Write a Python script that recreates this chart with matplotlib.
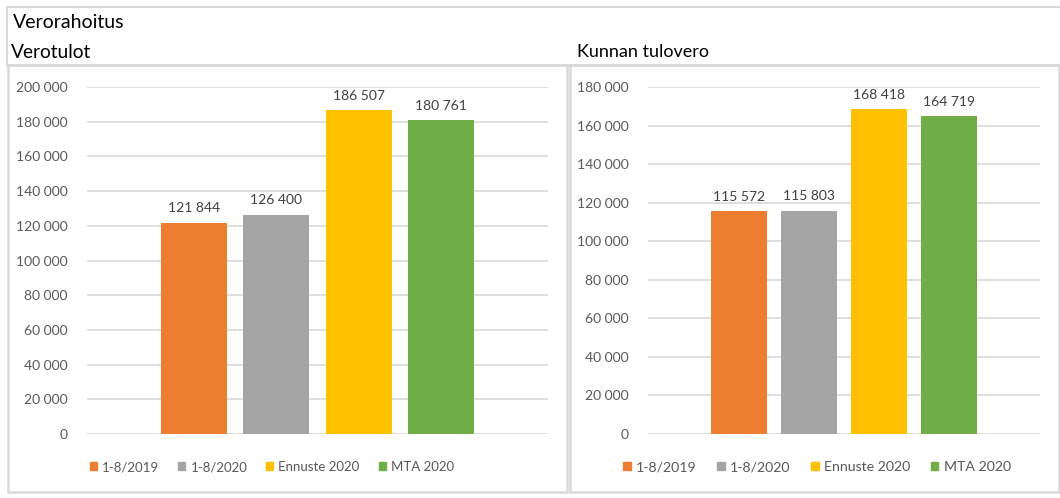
import matplotlib.pyplot as plt
from matplotlib.patches import Patch, Rectangle
from matplotlib.lines import Line2D
from matplotlib.ticker import FuncFormatter

plt.rcParams['font.family'] = ['Lato', 'DejaVu Sans']

series = ['1-8/2019', '1-8/2020', 'Ennuste 2020', 'MTA 2020']
colors = ['#ED7D31', '#A5A5A5', '#FFC000', '#70AD47']
verotulot = [121844, 126400, 186507, 180761]
tulovero = [115572, 115803, 168418, 164719]

W, H = 1060, 498
fig = plt.figure(figsize=(W / 100, H / 100), dpi=100)

def fx(px):
    return px / W

def fy(py):
    return 1 - py / H

def fmt(v, pos=None):
    return f'{int(v):,}'.replace(',', ' ')

border = '#d9d9d9'
# outer frame and header lines
fig.add_artist(Line2D([fx(7), 1], [fy(7), fy(7)], color=border, lw=1.5))
fig.add_artist(Line2D([fx(7), fx(7)], [fy(7), fy(65)], color=border, lw=1.5))
fig.add_artist(Line2D([fx(7), 1], [fy(65), fy(65)], color=border, lw=2))
for x0, x1 in [(8, 567), (570, 1059)]:
    fig.add_artist(Rectangle((fx(x0), fy(492)), fx(x1 - x0), (492 - 65) / H,
                             fill=False, edgecolor=border, lw=1.8))

fig.text(fx(13), fy(22), 'Verorahoitus', fontsize=14, va='center', color='black')
fig.text(fx(11), fy(52), 'Verotulot', fontsize=13.8, va='center', color='black')
fig.text(fx(577), fy(52), 'Kunnan tulovero', fontsize=13, va='center', color='black')

def panel(x0, x1, values, ymax, legend_cx, legend_fs):
    ax = fig.add_axes([fx(x0), fy(434), fx(x1 - x0), (434 - 87) / H])
    xs = range(len(values))
    bars = ax.bar(xs, values, width=0.8, color=colors, zorder=3)
    for b, v in zip(bars, values):
        ax.annotate(fmt(v), (b.get_x() + b.get_width() / 2, v), xytext=(0, 6),
                    textcoords='offset points', ha='center', va='bottom',
                    fontsize=10, color='#404040')
    ax.set_xlim(1.5 - 2.79, 1.5 + 2.79)
    ax.set_ylim(0, ymax)
    ax.set_yticks(range(0, ymax + 1, 20000))
    ax.yaxis.set_major_formatter(FuncFormatter(fmt))
    ax.tick_params(axis='y', length=0, pad=14, labelsize=10, labelcolor='#595959')
    ax.set_xticks([])
    ax.grid(axis='y', color=border, lw=1.2, zorder=0)
    for s in ax.spines.values():
        s.set_visible(False)
    handles = [Patch(color=c, label=s) for c, s in zip(colors, series)]
    fig.legend(handles=handles, loc='center', bbox_to_anchor=(fx(legend_cx), fy(467)),
               ncol=4, frameon=False, fontsize=legend_fs, handlelength=0.53,
               handleheight=0.53, handletextpad=0.38, columnspacing=1.45,
               labelcolor='#595959')
    return ax

panel(87, 548, verotulot, 200000, 272, 9.5)
panel(648, 1040, tulovero, 180000, 817, 10.2)

fig.savefig('out.png', dpi=100)
